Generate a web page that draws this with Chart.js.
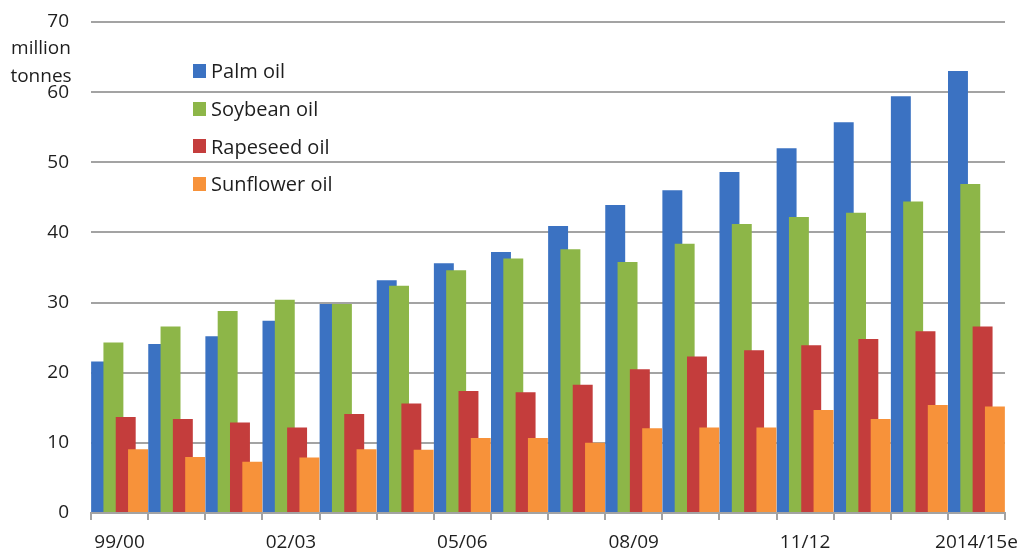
<!DOCTYPE html>
<html>
<head>
<meta charset="utf-8">
<script src="https://cdn.jsdelivr.net/npm/chart.js@4.4.1/dist/chart.umd.min.js"></script>
<style>
  html, body { margin:0; padding:0; background:#fff; overflow:hidden; }
  #wrap { position:relative; width:1032px; height:551px; font-family:"Open Sans", sans-serif; color:#1e1e1e; }
  #unit { position:absolute; left:0; top:33px; width:82px; text-align:center; font-size:19px; line-height:28px; }
  #legend { position:absolute; left:193px; top:52px; font-size:20px; }
  #legend div { height:37.7px; display:flex; align-items:center; }
  #legend span { display:inline-block; width:13px; height:14px; margin-right:5px; }
</style>
</head>
<body>
<div id="wrap">
  <canvas id="grafico"></canvas>
  <div id="unit">million<br>tonnes</div>
  <div id="legend"></div>
</div>
<script>

/* DADOS */

const anos = ["99/00","00/01","01/02","02/03","03/04","04/05","05/06","06/07",
              "07/08","08/09","09/10","10/11","11/12","12/13","13/14","2014/15e"]

const palma   = [21.6,24.1,25.2,27.4,29.8,33.2,35.6,37.2,40.9,43.9,46.0,48.6,52.0,55.7,59.4,63.0]
const soja    = [24.3,26.6,28.8,30.4,29.8,32.4,34.6,36.3,37.6,35.8,38.4,41.2,42.2,42.8,44.4,46.9]
const colza   = [13.7,13.4,12.9,12.2,14.1,15.6,17.4,17.2,18.3,20.5,22.3,23.2,23.9,24.8,25.9,26.6]
const girassol= [9.1,8.0,7.3,7.9,9.1,9.0,10.7,10.7,10.0,12.1,12.2,12.2,14.7,13.4,15.4,15.2]

const nomes = ["Palm oil","Soybean oil","Rapeseed oil","Sunflower oil"]
const cores = ["#3b72c2","#8db648","#c43d3c","#f7923a"]

const yTicks = [0,10,20,30,40,50,60,70]

const series = [palma, soja, colza, girassol]


/* LEGENDA */

const leg = document.getElementById("legend")

nomes.forEach((n, i) => {
    let row = document.createElement("div")
    row.innerHTML = '<span style="background:' + cores[i] + '"></span>' + n
    leg.appendChild(row)
})


/* ORDEM DE DESENHO (ultima serie por cima, como no Excel) */

const ordemDesenho = {
    id: "ordemDesenho",
    beforeDatasetsDraw(chart) {
        chart.getSortedVisibleDatasetMetas().forEach(m => m.controller.draw())
        return false
    }
}


/* GRAFICO */

const grade = "#a3a3a3"

new Chart(document.getElementById("grafico"), {

    type: "bar",

    data: {
        labels: anos,
        datasets: series.map((s, i) => ({
            label: nomes[i],
            data: s,
            backgroundColor: cores[i],
            borderWidth: 0,
            categoryPercentage: 0.862,
            barPercentage: 1.62
        }))
    },

    options: {
        responsive: true,
        maintainAspectRatio: false,
        animation: false,
        layout: { padding: { top: 22, right: 27, left: 0, bottom: 0 } },
        plugins: {
            legend: { display: false },
            tooltip: { enabled: false }
        },
        scales: {
            x: {
                afterFit: s => { s.height = 38 },
                grid: { drawOnChartArea: false, drawTicks: true, tickLength: 7, color: grade, lineWidth: 2, offset: true },
                border: { display: true, color: grade, width: 2 },
                ticks: {
                    autoSkip: false,
                    maxRotation: 0,
                    padding: 11,
                    color: "#1e1e1e",
                    font: { family: "Open Sans", size: 19 },
                    callback: (v, i) => i % 3 === 0 ? anos[i] : ""
                }
            },
            y: {
                min: yTicks[0],
                max: yTicks[yTicks.length - 1],
                afterFit: s => { s.width = 91; s.paddingTop = 11; s.paddingBottom = 11 },
                afterBuildTicks: s => { s.ticks = yTicks.map(v => ({ value: v })) },
                grid: { color: grade, lineWidth: 2, drawTicks: false },
                border: { display: false },
                ticks: {
                    padding: 22,
                    color: "#1e1e1e",
                    font: { family: "Open Sans", size: 19 }
                }
            }
        }
    },

    plugins: [ordemDesenho]
})

</script>
</body>
</html>
